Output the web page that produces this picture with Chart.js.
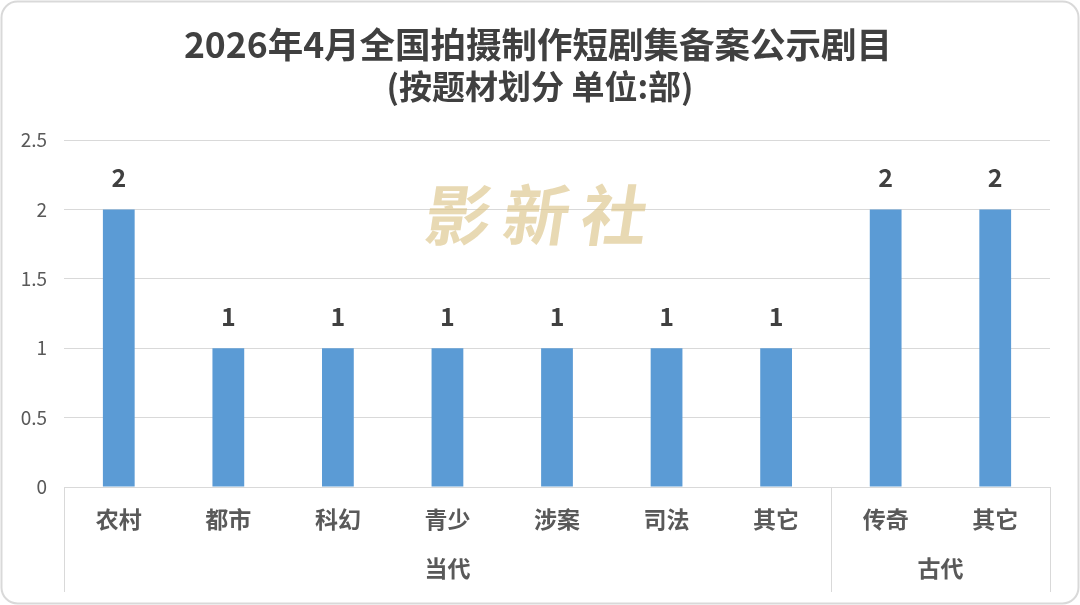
<!DOCTYPE html>
<html>
<head>
<meta charset="utf-8">
<script src="https://cdn.jsdelivr.net/npm/chart.js@4"></script>
<style>
  html, body { margin: 0; padding: 0; background: #fff; }
  #wrap { width: 1080px; height: 605px; position: relative; }
</style>
</head>
<body>
<div id="wrap"><canvas id="chart"></canvas></div>
<script>
// --- Data ---
const categories = ['农村', '都市', '科幻', '青少', '涉案', '司法', '其它', '传奇', '其它'];
const groupNames = ['当代', '古代'];
const groupSizes = [7, 2];
const counts = [2, 1, 1, 1, 1, 1, 1, 2, 2];
const yTicks = [0, 0.5, 1, 1.5, 2, 2.5];

const titleText = '2026年4月全国拍摄制作短剧集备案公示剧目';
const subtitleText = '(按题材划分 单位:部)';
const watermarkText = '影新社';

const FONT = '"Noto Sans CJK SC", "Noto Sans", sans-serif';
const LINE = '#d9d9d9';

// frame, titles, watermark, group row, value labels
const decorPlugin = {
    id: 'decor',
    beforeDraw(chart) {
        const ctx = chart.ctx;
        ctx.save();
        ctx.fillStyle = '#fff';
        ctx.fillRect(0, 0, chart.width, chart.height);
        ctx.strokeStyle = LINE;
        ctx.lineWidth = 2;
        ctx.beginPath();
        ctx.roundRect(1.5, 1.5, chart.width - 3, chart.height - 3, 16);
        ctx.stroke();

        // titles, centred on the frame
        ctx.fillStyle = '#404040';
        ctx.textAlign = 'center';
        ctx.textBaseline = 'middle';
        ctx.font = `bold 35.5px ${FONT}`;
        ctx.fillText(titleText, 538, 45);
        ctx.font = `bold 33px ${FONT}`;
        ctx.fillText(subtitleText, 540, 86);
        ctx.restore();
    },
    beforeDatasetsDraw(chart) {
        const ctx = chart.ctx;
        ctx.save();
        ctx.translate(543, 215);
        ctx.transform(1, 0, -0.15, 1, 0, 0);
        ctx.font = `bold 66px ${FONT}`;
        ctx.fillStyle = 'rgba(216, 192, 128, 0.6)';
        ctx.textAlign = 'center';
        ctx.textBaseline = 'middle';
        ctx.letterSpacing = '12px';
        ctx.fillText(watermarkText, 0, 0);
        ctx.restore();
    },
    afterDatasetsDraw(chart) {
        const ctx = chart.ctx;
        const meta = chart.getDatasetMeta(0);
        ctx.save();
        ctx.font = `bold 25px ${FONT}`;
        ctx.fillStyle = '#404040';
        ctx.textAlign = 'center';
        ctx.textBaseline = 'middle';
        meta.data.forEach((bar, i) => {
            ctx.fillText(String(counts[i]), bar.x, bar.y - 32);
        });
        ctx.restore();
    },
    afterDraw(chart) {
        const ctx = chart.ctx;
        const x = chart.scales.x;
        const area = chart.chartArea;
        const step = (x.right - x.left) / categories.length;
        const bottom = area.bottom + 105;
        ctx.save();
        ctx.strokeStyle = LINE;
        ctx.lineWidth = 1;
        let start = 0;
        const edges = [0];
        groupSizes.forEach(n => { start += n; edges.push(start); });
        edges.forEach(e => {
            const px = Math.round(x.left + e * step) + 0.5;
            ctx.beginPath();
            ctx.moveTo(px, area.bottom);
            ctx.lineTo(px, bottom);
            ctx.stroke();
        });
        ctx.font = `bold 23px ${FONT}`;
        ctx.fillStyle = '#595959';
        ctx.textAlign = 'center';
        ctx.textBaseline = 'middle';
        groupNames.forEach((g, i) => {
            const cx = x.left + (edges[i] + edges[i + 1]) / 2 * step;
            ctx.fillText(g, cx, area.bottom + 81);
        });
        ctx.restore();
    }
};

new Chart(document.getElementById('chart'), {
    type: 'bar',
    data: {
        labels: categories,
        datasets: [{
            data: counts,
            backgroundColor: '#5b9bd5',
            categoryPercentage: 1,
            barPercentage: 0.29
        }]
    },
    options: {
        responsive: true,
        maintainAspectRatio: false,
        animation: false,
        layout: { padding: { left: 0, right: 30, top: 140, bottom: 0 } },
        plugins: {
            legend: { display: false },
            tooltip: { enabled: false },
            title: { display: false }
        },
        scales: {
            x: {
                grid: { display: false, drawTicks: false },
                border: { display: false },
                ticks: {
                    color: '#595959',
                    font: { family: FONT, size: 23, weight: 'bold' },
                    padding: 18,
                    maxRotation: 0,
                    autoSkip: false
                },
                afterFit(scale) { scale.height = 118; }
            },
            y: {
                min: 0,
                max: 2.5,
                afterBuildTicks(scale) { scale.ticks = yTicks.map(v => ({ value: v })); },
                grid: { color: LINE, lineWidth: 1, drawTicks: false },
                border: { display: false },
                ticks: {
                    color: '#595959',
                    font: { family: FONT, size: 19 },
                    padding: 17,
                    callback: v => String(v)
                },
                afterFit(scale) { scale.width = 64; }
            }
        }
    },
    plugins: [decorPlugin]
});
</script>
</body>
</html>
